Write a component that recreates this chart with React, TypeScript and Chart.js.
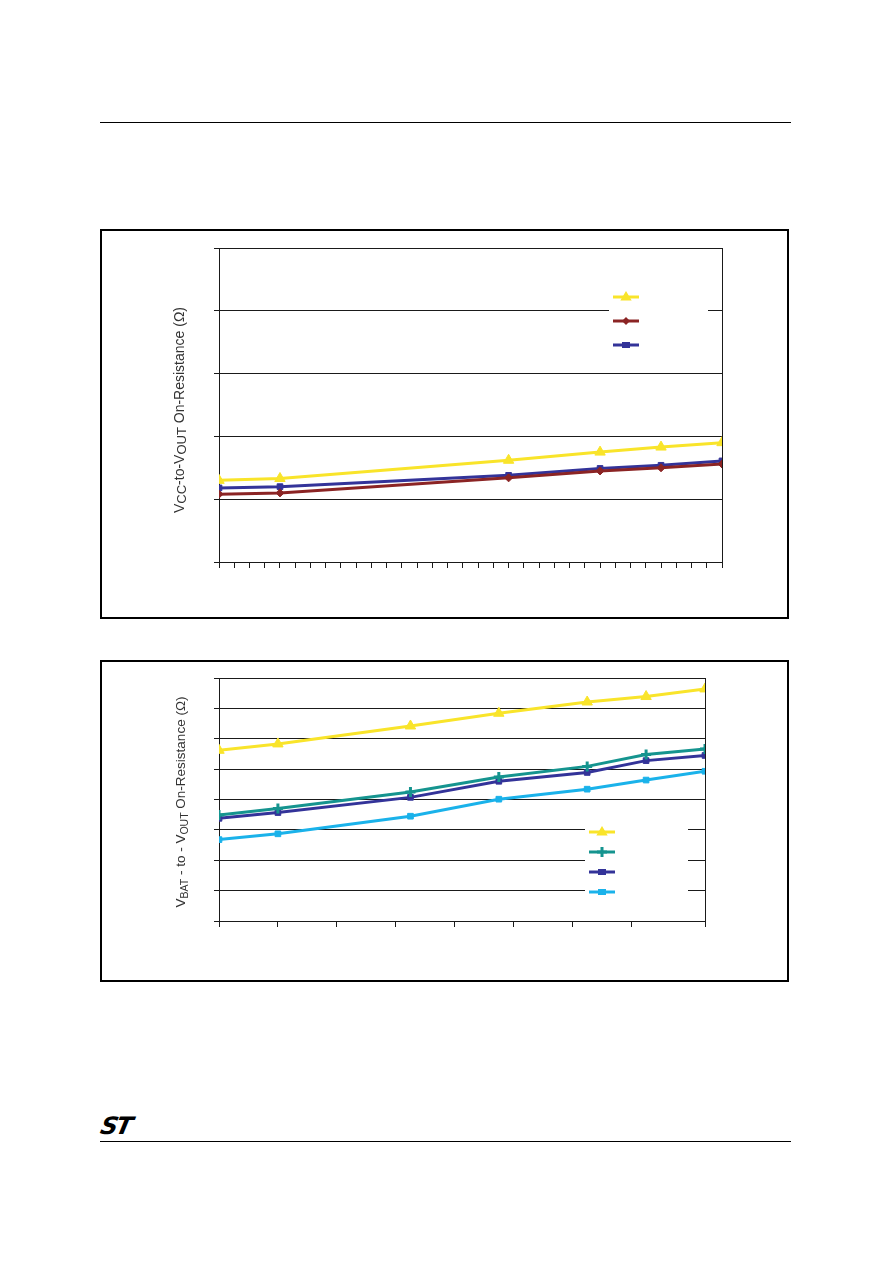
import React, { useEffect, useRef } from 'react';
import { Chart, registerables } from 'chart.js';

Chart.register(...registerables);

// ---- Data: chart 1 (VCC-to-VOUT) ----
const tempsTop = [-40, -20, 55, 85, 105, 125];
const topYellow = [1.3, 1.33, 1.62, 1.75, 1.83, 1.9];
const topRed = [1.08, 1.1, 1.34, 1.45, 1.5, 1.56];
const topBlue = [1.18, 1.2, 1.38, 1.49, 1.54, 1.61];

// ---- Data: chart 2 (VBAT-to-VOUT) ----
const tempsBottom = [-40, -20, 25, 55, 85, 105, 125];
const botYellow = [5.62, 5.83, 6.42, 6.84, 7.21, 7.39, 7.64];
const botTeal = [3.49, 3.7, 4.25, 4.74, 5.09, 5.48, 5.66];
const botNavy = [3.38, 3.57, 4.07, 4.6, 4.89, 5.28, 5.45];
const botCyan = [2.68, 2.87, 3.45, 4.01, 4.34, 4.64, 4.93];

const YELLOW = '#F9E42A';
const RED = '#8B2424';
const NAVY = '#333399';
const TEAL = '#15948F';
const CYAN = '#1AB2EA';
const AXIS = '#1a1a1a';

type Seg = { t: string; sub?: boolean };

function drawMarker(ctx: CanvasRenderingContext2D, style: string, x: number, y: number, r: number, color: string) {
  ctx.save();
  ctx.fillStyle = color;
  ctx.strokeStyle = color;
  ctx.beginPath();
  if (style === 'triangle') {
    ctx.moveTo(x, y - r);
    ctx.lineTo(x + r * 0.95, y + r * 0.6);
    ctx.lineTo(x - r * 0.95, y + r * 0.6);
    ctx.closePath();
    ctx.fill();
  } else if (style === 'rectRot') {
    ctx.moveTo(x, y - r);
    ctx.lineTo(x + r, y);
    ctx.lineTo(x, y + r);
    ctx.lineTo(x - r, y);
    ctx.closePath();
    ctx.fill();
  } else if (style === 'rect') {
    ctx.fillRect(x - r, y - r * 0.75, 2 * r, 1.5 * r);
  } else if (style === 'cross') {
    ctx.lineWidth = 3;
    ctx.moveTo(x - r, y);
    ctx.lineTo(x + r, y);
    ctx.moveTo(x, y - r);
    ctx.lineTo(x, y + r);
    ctx.stroke();
  }
  ctx.restore();
}

function makeDataset(data: number[], xs: number[], color: string, style: string, radius: number) {
  return {
    data: xs.map((x, i) => ({ x, y: data[i] })),
    borderColor: color,
    backgroundColor: color,
    borderWidth: 3,
    pointStyle: style,
    pointRadius: radius,
    pointBorderWidth: style === 'cross' ? 3 : 1,
    pointBorderColor: color,
    pointBackgroundColor: color,
    tension: 0,
    fill: false,
  };
}

type ChartSpec = {
  width: number;
  height: number;
  xStep: number;
  yMax: number;
  padTop: number;
  padRight: number;
  yWidth: number;
  xHeight: number;
  datasets: any[];
  markers: { style: string; color: string; r: number }[];
  title: Seg[];
  mainFont: string;
  subFont: string;
  subShift: number;
  titleX: number;
  titleY: number;
  legendRect: [number, number, number, number];
  legendX: [number, number];
  legendYs: number[];
};

function LineChart({ spec }: { spec: ChartSpec }) {
  const ref = useRef<HTMLCanvasElement | null>(null);
  useEffect(() => {
    if (!ref.current) return;
    const framePlugin = {
      id: 'frame',
      beforeDatasetsDraw(chart: any) {
        const { ctx, chartArea: a } = chart;
        ctx.save();
        ctx.strokeStyle = AXIS;
        ctx.lineWidth = 1;
        ctx.strokeRect(Math.round(a.left) + 0.5, Math.round(a.top) + 0.5, Math.round(a.right - a.left), Math.round(a.bottom - a.top));
        ctx.restore();
      },
    };
    const titlePlugin = {
      id: 'ytitle',
      afterDraw(chart: any) {
        const ctx: CanvasRenderingContext2D = chart.ctx;
        ctx.save();
        ctx.translate(spec.titleX, spec.titleY);
        ctx.rotate(-Math.PI / 2);
        let total = 0;
        const widths = spec.title.map((s) => {
          ctx.font = s.sub ? spec.subFont : spec.mainFont;
          const w = ctx.measureText(s.t).width;
          total += w;
          return w;
        });
        let cx = -total / 2;
        ctx.fillStyle = '#333';
        ctx.textBaseline = 'middle';
        spec.title.forEach((s, i) => {
          ctx.font = s.sub ? spec.subFont : spec.mainFont;
          ctx.fillText(s.t, cx, s.sub ? spec.subShift : 0);
          cx += widths[i];
        });
        ctx.restore();

        // legend
        const [lx0, ly0, lx1, ly1] = spec.legendRect;
        ctx.save();
        ctx.fillStyle = '#ffffff';
        ctx.fillRect(lx0, ly0, lx1 - lx0, ly1 - ly0);
        spec.markers.forEach((m, i) => {
          const y = spec.legendYs[i];
          ctx.strokeStyle = m.color;
          ctx.lineWidth = 3;
          ctx.beginPath();
          ctx.moveTo(spec.legendX[0], y);
          ctx.lineTo(spec.legendX[1], y);
          ctx.stroke();
          drawMarker(ctx, m.style, (spec.legendX[0] + spec.legendX[1]) / 2, y, m.r, m.color);
        });
        ctx.restore();
      },
    };
    const chart = new Chart(ref.current, {
      type: 'line',
      data: { datasets: spec.datasets },
      options: {
        animation: false,
        responsive: false,
        devicePixelRatio: 1,
        layout: { padding: { left: 0, top: spec.padTop, right: spec.padRight, bottom: 0 } },
        plugins: { legend: { display: false }, tooltip: { enabled: false } },
        scales: {
          x: {
            type: 'linear',
            min: -40,
            max: 125,
            ticks: { display: false, stepSize: spec.xStep },
            grid: { drawOnChartArea: false, drawTicks: true, tickLength: 6, color: AXIS },
            border: { display: true, color: AXIS },
            afterFit: (s: any) => {
              s.height = spec.xHeight;
            },
          },
          y: {
            type: 'linear',
            min: 0,
            max: spec.yMax,
            ticks: { display: false, stepSize: 1 },
            grid: { drawOnChartArea: true, drawTicks: true, tickLength: 5, color: AXIS },
            border: { display: true, color: AXIS },
            afterFit: (s: any) => {
              s.width = spec.yWidth;
            },
          },
        },
      } as any,
      plugins: [framePlugin, titlePlugin],
    });
    return () => chart.destroy();
  }, [spec]);
  return <canvas ref={ref} width={spec.width} height={spec.height} style={{ display: 'block' }} />;
}

const specTop: ChartSpec = {
  width: 685,
  height: 386,
  xStep: 5,
  yMax: 5,
  padTop: 17,
  padRight: 65,
  yWidth: 117,
  xHeight: 55,
  datasets: [
    makeDataset(topYellow, tempsTop, YELLOW, 'triangle', 6),
    makeDataset(topRed, tempsTop, RED, 'rectRot', 4),
    makeDataset(topBlue, tempsTop, NAVY, 'rect', 4),
  ],
  markers: [
    { style: 'triangle', color: YELLOW, r: 6 },
    { style: 'rectRot', color: RED, r: 4 },
    { style: 'rect', color: NAVY, r: 4 },
  ],
  title: [
    { t: 'V' },
    { t: 'CC', sub: true },
    { t: '-to-V' },
    { t: 'OUT', sub: true },
    { t: ' On-Resistance (Ω)' },
  ],
  mainFont: '14px "Liberation Sans", Arial, sans-serif',
  subFont: '13px "Liberation Sans", Arial, sans-serif',
  subShift: 2,
  titleX: 78,
  titleY: 179,
  legendRect: [507, 54, 606, 126],
  legendX: [511, 537],
  legendYs: [66, 90, 114],
};

const specBottom: ChartSpec = {
  width: 685,
  height: 318,
  xStep: 20,
  yMax: 8,
  padTop: 16,
  padRight: 82,
  yWidth: 117,
  xHeight: 59,
  datasets: [
    makeDataset(botYellow, tempsBottom, YELLOW, 'triangle', 6),
    makeDataset(botTeal, tempsBottom, TEAL, 'cross', 5),
    makeDataset(botNavy, tempsBottom, NAVY, 'rect', 4),
    makeDataset(botCyan, tempsBottom, CYAN, 'rect', 4),
  ],
  markers: [
    { style: 'triangle', color: YELLOW, r: 6 },
    { style: 'cross', color: TEAL, r: 5 },
    { style: 'rect', color: NAVY, r: 4 },
    { style: 'rect', color: CYAN, r: 4 },
  ],
  title: [
    { t: 'V' },
    { t: 'BAT', sub: true },
    { t: ' - to - V' },
    { t: 'OUT', sub: true },
    { t: ' On-Resistance (Ω)' },
  ],
  mainFont: '13.5px "Liberation Sans", Arial, sans-serif',
  subFont: '10.5px "Liberation Sans", Arial, sans-serif',
  subShift: 4,
  titleX: 79,
  titleY: 140,
  legendRect: [483, 158, 586, 240],
  legendX: [487, 513],
  legendYs: [170, 190, 210, 230],
};

export default function App() {
  const boxStyle = (top: number, height: number): React.CSSProperties => ({
    position: 'absolute',
    left: 100,
    top,
    width: 685,
    height,
    border: '2px solid #000',
    background: '#fff',
  });
  return (
    <div style={{ position: 'absolute', left: 0, top: 0, width: 892, height: 1263, background: '#fff' }}>
      <div style={{ position: 'absolute', left: 100, top: 122, width: 691, height: 1, background: '#000' }} />
      <div style={boxStyle(229, 386)}>
        <LineChart spec={specTop} />
      </div>
      <div style={boxStyle(660, 318)}>
        <LineChart spec={specBottom} />
      </div>
      <div
        style={{
          position: 'absolute',
          left: 101,
          top: 1113,
          fontFamily: '"DejaVu Sans", sans-serif',
          fontWeight: 900,
          fontStyle: 'italic',
          fontSize: 24,
          lineHeight: '26px',
          letterSpacing: -2,
          transform: 'skewX(-12deg)',
          color: '#000',
        }}
      >
        ST
      </div>
      <div style={{ position: 'absolute', left: 100, top: 1141, width: 691, height: 1, background: '#000' }} />
    </div>
  );
}
